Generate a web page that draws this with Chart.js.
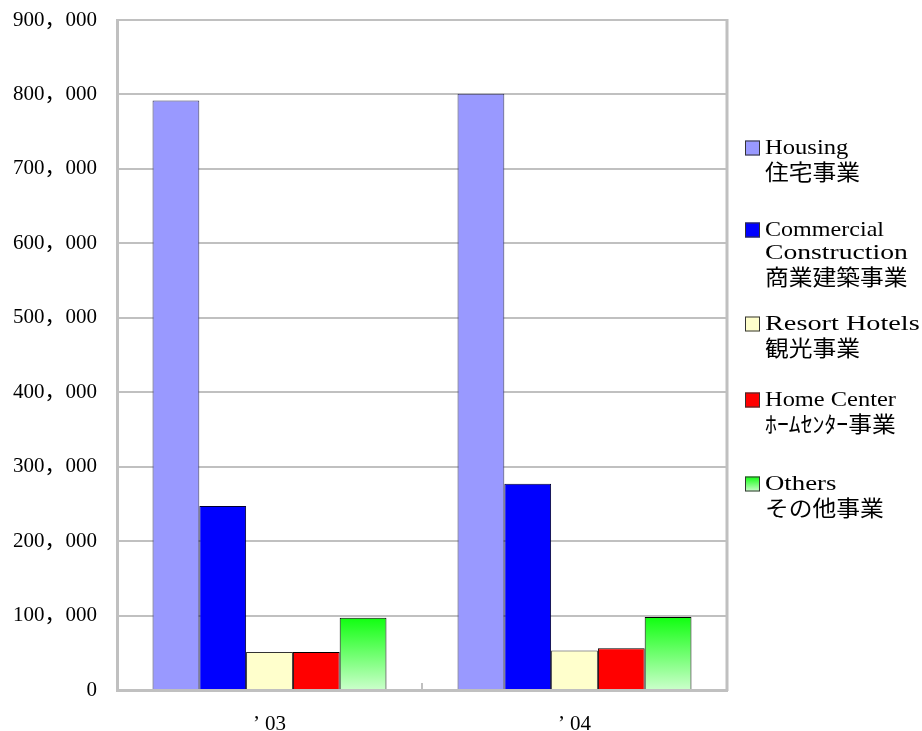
<!DOCTYPE html>
<html>
<head>
<meta charset="utf-8">
<script src="https://cdn.jsdelivr.net/npm/chart.js@4"></script>
<style>
  html, body { margin: 0; padding: 0; background: #fff; }
  #wrap { width: 922px; height: 731px; position: relative; }
</style>
</head>
<body>
<div id="wrap"><canvas id="chart"></canvas></div>
<script>
// data
const categories = ['’ 03', '’ 04'];
const housing = [792000, 801000];
const commercial = [247000, 277000];
const resortHotels = [51000, 53000];
const homeCenter = [51000, 56000];
const others = [97000, 98000];
const yTickLabels = ['0', '100，000', '200，000', '300，000', '400，000', '500，000', '600，000', '700，000', '800，000', '900，000'];

const legendLabels = [
  ['Housing', '住宅事業'],
  ['Commercial', 'Construction', '商業建築事業'],
  ['Resort Hotels', '観光事業'],
  ['Home Center', 'ﾎｰﾑｾﾝﾀｰ事業'],
  ['Others', 'その他事業'],
];

const gridGray = '#c0c0c0';
const tickFont = { family: "'Liberation Serif', 'Noto Sans CJK JP'", size: 21 };

function greenFill(ctx) {
  const chart = ctx.chart;
  if (!chart.chartArea || ctx.raw === undefined) return '#66ff66';
  const y = chart.scales.y;
  const top = y.getPixelForValue(ctx.raw);
  const bottom = y.getPixelForValue(0);
  const g = chart.ctx.createLinearGradient(0, top, 0, bottom);
  g.addColorStop(0, '#10ff10');
  g.addColorStop(1, '#ccffcc');
  return g;
}

// right frame line, middle tick and the multi-line legend
const framePlugin = {
  id: 'frame',
  afterDraw(chart, args, opts) {
    const ctx = chart.ctx;
    const a = chart.chartArea;
    const x = chart.scales.x;
    ctx.save();
    ctx.strokeStyle = gridGray;
    ctx.lineWidth = 3;
    ctx.beginPath();
    ctx.moveTo(a.right, a.top - 1);
    ctx.lineTo(a.right, a.bottom + 1);
    ctx.stroke();
    const mid = (x.getPixelForValue(0) + x.getPixelForValue(1)) / 2;
    ctx.lineWidth = 2;
    ctx.beginPath();
    ctx.moveTo(mid, a.bottom);
    ctx.lineTo(mid, a.bottom - 7);
    ctx.stroke();

    // legend
    chart.data.datasets.forEach((ds, i) => {
      const cy = opts.itemY[i];
      const bx = opts.x, bs = 15;
      if (typeof ds.backgroundColor === 'function') {
        const g = ctx.createLinearGradient(0, cy - bs / 2, 0, cy + bs / 2);
        g.addColorStop(0, '#10ff10');
        g.addColorStop(1, '#ccffcc');
        ctx.fillStyle = g;
      } else {
        ctx.fillStyle = ds.backgroundColor;
      }
      ctx.fillRect(bx, cy - bs / 2, bs, bs);
      ctx.strokeStyle = '#333';
      ctx.lineWidth = 1;
      ctx.strokeRect(bx + 0.5, cy - bs / 2 + 0.5, bs - 1, bs - 1);

      ctx.fillStyle = '#000';
      ctx.textBaseline = 'middle';
      ctx.textAlign = 'left';
      legendLabels[i].forEach((line, j) => {
        const ly = cy + j * opts.lineHeight;
        ctx.save();
        ctx.translate(bx + 20, ly);
        if (/[^\x00-\x7f]/.test(line)) {
          ctx.font = "22px 'Noto Sans CJK JP'";
          ctx.scale(1.08, 1);
        } else {
          // stretch the serif text to the monospace width of the original
          ctx.font = "21px 'Liberation Serif'";
          const w = ctx.measureText(line).width;
          ctx.scale((line.length * 11.9) / w, 1);
        }
        ctx.fillText(line, 0, 0);
        ctx.restore();
      });
    });
    ctx.restore();
  }
};

new Chart(document.getElementById('chart'), {
  type: 'bar',
  data: {
    labels: categories,
    datasets: [
      { label: 'Housing 住宅事業', data: housing, backgroundColor: '#9999ff', borderColor: '#333355' },
      { label: 'Commercial Construction 商業建築事業', data: commercial, backgroundColor: '#0000ff', borderColor: '#000033' },
      { label: 'Resort Hotels 観光事業', data: resortHotels, backgroundColor: '#ffffcc', borderColor: '#333333' },
      { label: 'Home Center ﾎｰﾑｾﾝﾀｰ事業', data: homeCenter, backgroundColor: '#ff0000', borderColor: '#000000' },
      { label: 'Others その他事業', data: others, backgroundColor: greenFill, borderColor: '#000000' },
    ],
  },
  options: {
    responsive: true,
    maintainAspectRatio: false,
    animation: false,
    datasets: {
      bar: {
        borderWidth: 1,
        barPercentage: 1,
        categoryPercentage: 0.767,
      },
    },
    layout: { padding: { top: 20, right: 195, left: 0, bottom: 0 } },
    plugins: {
      legend: { display: false },
      tooltip: { enabled: false },
      frame: { x: 745, itemY: [148, 230, 324, 400, 484], lineHeight: 23.5 },
    },
    scales: {
      x: {
        grid: { display: false, drawTicks: false },
        border: { display: true, color: gridGray, width: 3 },
        ticks: { color: '#000', font: tickFont, padding: 22 },
        afterFit: (s) => { s.height = 41; s.paddingLeft = 0; s.paddingRight = 0; },
      },
      y: {
        min: 0,
        max: 900000,
        ticks: {
          stepSize: 100000,
          color: '#000',
          font: tickFont,
          padding: 20,
          callback: (v, i) => yTickLabels[i],
        },
        grid: { color: gridGray, lineWidth: 2, drawTicks: false },
        border: { display: true, color: gridGray, width: 3 },
        afterFit: (s) => { s.width = 117; s.paddingTop = 0; s.paddingBottom = 0; },
      },
    },
  },
  plugins: [framePlugin],
});
</script>
</body>
</html>
